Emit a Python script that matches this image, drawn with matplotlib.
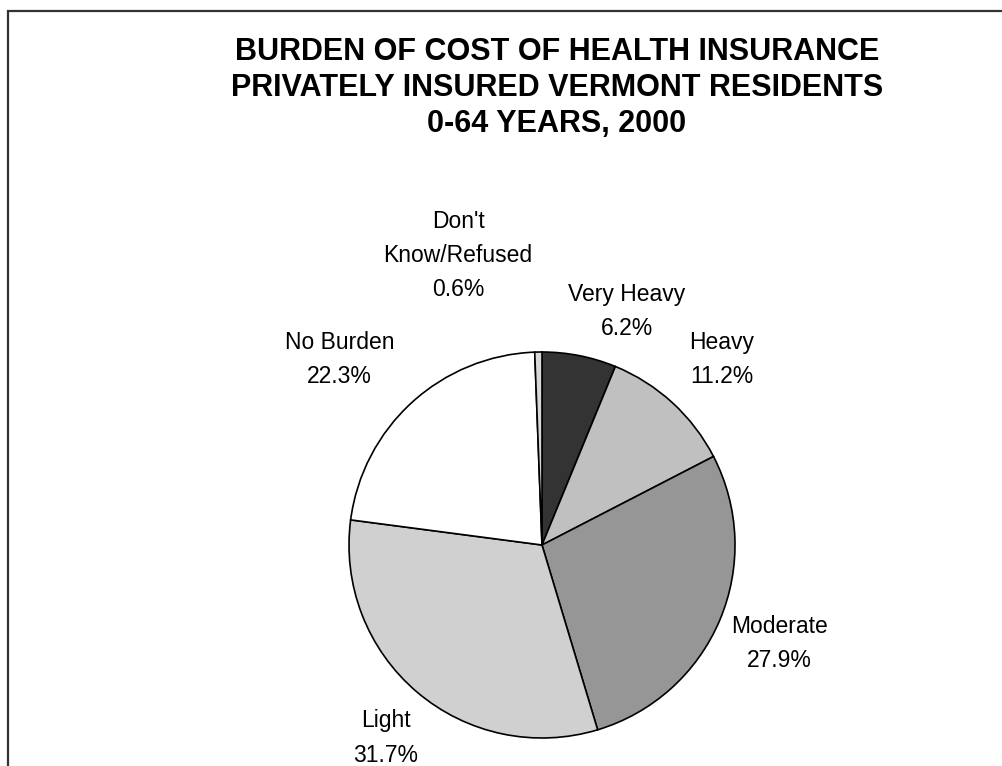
import matplotlib
matplotlib.use('Agg')
import matplotlib.pyplot as plt
from matplotlib.patches import Rectangle

plt.rcParams['font.family'] = ['Liberation Sans', 'DejaVu Sans']

categories = ['Very Heavy', 'Heavy', 'Moderate', 'Light', 'No Burden', "Don't\nKnow/Refused"]
shares = [6.2, 11.2, 27.9, 31.7, 22.3, 0.6]
colors = ['#333333', '#c0c0c0', '#969696', '#d0d0d0', '#ffffff', '#d8d8d8']
title = 'BURDEN OF COST OF HEALTH INSURANCE\nPRIVATELY INSURED VERMONT RESIDENTS\n0-64 YEARS, 2000'

# label centres in pie-radius units
label_pos = [(0.44, 1.21), (0.93, 0.96), (1.23, -0.51), (-0.81, -1.0), (-1.05, 0.96), (-0.435, 1.50)]

W, H = 1003, 766
R = 193.0   # pie radius in pixels
cx, cy = 542, 545

fig = plt.figure(figsize=(W / 100, H / 100), dpi=100)
hw, hh = 450, 230
ax = fig.add_axes([(cx - hw) / W, (H - cy - hh) / H, 2 * hw / W, 2 * hh / H])

ax.pie(shares, colors=colors, startangle=90, counterclock=False,
       wedgeprops=dict(edgecolor='black', linewidth=1.2))
ax.set_xlim(-hw / R, hw / R)
ax.set_ylim(-hh / R, hh / R)
ax.set_aspect('auto')
ax.axis('off')

for name, val, (x, y) in zip(categories, shares, label_pos):
    ax.text(x, y, f'{name}\n{val:.1f}%', ha='center', va='center',
            fontsize=16.5, linespacing=1.63, clip_on=False)

fig.text(557 / W, 1 - 88 / H, title, ha='center', va='center',
         fontsize=22, fontweight='bold', linespacing=1.26)

fig.patches.append(Rectangle((8 / W, -0.1), 1.2, 1 - 11 / H + 0.1,
                             transform=fig.transFigure, fill=False,
                             edgecolor='#333333', linewidth=1.6))

fig.savefig('out.png', dpi=100)
